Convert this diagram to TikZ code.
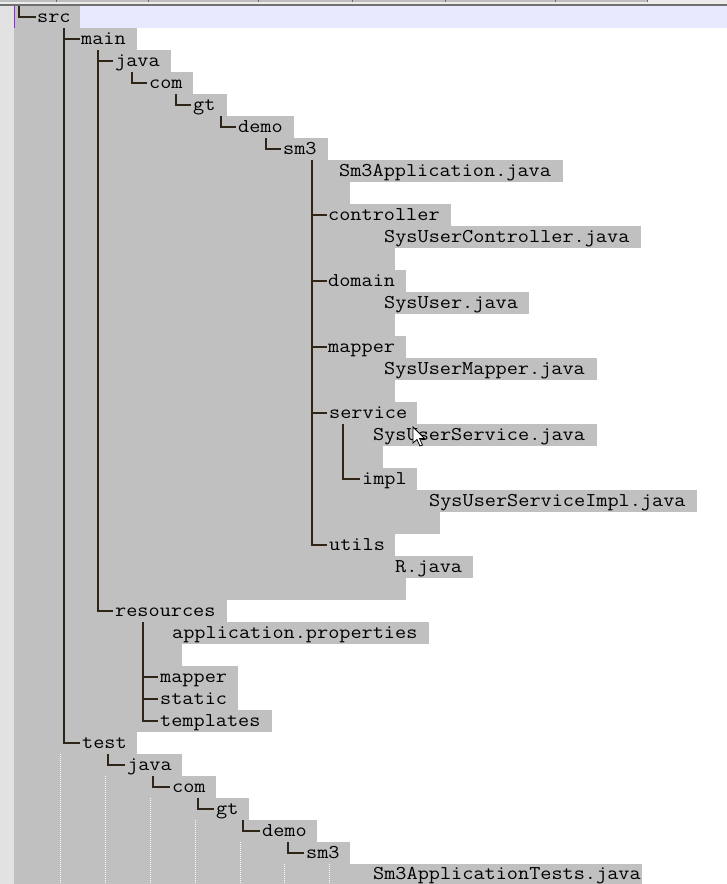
\documentclass[tikz,border=0pt]{standalone}
\usepackage{fontspec}
\definecolor{sel}{HTML}{C0C0C0}
\definecolor{lav}{HTML}{E8E8FF}
\definecolor{gutter}{HTML}{E2E2E2}
\definecolor{topbg}{HTML}{ECECEC}
\definecolor{tabgray}{HTML}{BEBEBE}
\definecolor{tabsep}{HTML}{6A6A6A}
\definecolor{topline}{HTML}{707070}
\definecolor{treeline}{HTML}{2E2418}
\definecolor{caret}{HTML}{8A2BE2}
\newcommand\ct[1]{\scalebox{1.11}[1]{#1}}
\begin{document}
\begin{tikzpicture}[x=1pt,y=-1pt,
  txt/.style={anchor=base west,inner sep=0pt,font=\fontsize{19.5}{22}\selectfont\ttfamily},
  tl/.style={draw=treeline,line width=1.1pt},
  guide/.style={draw=white,line width=1pt,dash pattern=on 1pt off 1pt},
  selrow/.style={fill=sel}]
\useasboundingbox (0,0) rectangle (727,884);
\clip (0,0) rectangle (727,884);
\fill[white] (0,0) rectangle (727,884);
% top strip
\fill[topbg] (0,0) rectangle (727,6);
\fill[tabgray] (0,0) rectangle (647,2.3);
\foreach \x in {56,148,258,352,445,555,647} \draw[tabsep,line width=0.8pt] (\x,0) -- (\x,2.3);
\fill[topline] (0,4.3) rectangle (727,6);
% gutter
\fill[gutter] (0,6) rectangle (14,884);
% current line
\fill[lav] (14,6) rectangle (727,28);
% selection
\foreach \i/\e in {0/80,1/137,2/171,3/193,4/227,5/294,6/328,7/563,8/350,9/451,10/641,11/395,12/406,13/529,14/395,15/406,16/597,17/395,18/417,19/597,20/383,21/417,22/697,23/440,24/395,25/473,26/406,27/227,28/429,29/182,30/238,31/238,32/272,33/137,34/182,35/216,36/249,37/317,38/350,39/642}
  \fill[selrow] (14,{6+22*\i}) rectangle (\e,{28+22*\i});
% caret
\draw[caret,line width=1.2pt] (14.6,6) -- (14.6,28);
% indentation guides (test part)
\foreach \x/\s in {60/34,105/35,150/36,195/37,240/38,284/39,329/39}
  \draw[guide] (\x,{6+22*\s}) -- (\x,884);
% texts
\node[txt] (src) at (37,22) {\ct{src}};
\node[txt] (main) at (81,44) {\ct{main}};
\node[txt] (java) at (115,66) {\ct{java}};
\node[txt] (com) at (149,88) {\ct{com}};
\node[txt] (gt) at (193,110) {\ct{gt}};
\node[txt] (demo) at (238,132) {\ct{demo}};
\node[txt] (sm3) at (283,154) {\ct{sm3}};
\node[txt] (app) at (339,176) {\ct{Sm3Application.java}};
\node[txt] (controller) at (328,220) {\ct{controller}};
\node[txt] (ctrlj) at (384,242) {\ct{SysUserController.java}};
\node[txt] (domain) at (328,286) {\ct{domain}};
\node[txt] (userj) at (384,308) {\ct{SysUser.java}};
\node[txt] (mapper) at (328,352) {\ct{mapper}};
\node[txt] (mapperj) at (384,374) {\ct{SysUserMapper.java}};
\node[txt] (service) at (329,418) {\ct{service}};
\node[txt] (servj) at (373,440) {\ct{SysUserService.java}};
\node[txt] (impl) at (362,484) {\ct{impl}};
\node[txt] (implj) at (429,506) {\ct{SysUserServiceImpl.java}};
\node[txt] (utils) at (329,550) {\ct{utils}};
\node[txt] (rj) at (395,572) {\ct{R.java}};
\node[txt] (resources) at (115,616) {\ct{resources}};
\node[txt] (props) at (172,638) {\ct{application.properties}};
\node[txt] (rmapper) at (160,682) {\ct{mapper}};
\node[txt] (static) at (160,704) {\ct{static}};
\node[txt] (templates) at (160,726) {\ct{templates}};
\node[txt] (test) at (82,748) {\ct{test}};
\node[txt] (tjava) at (127,770) {\ct{java}};
\node[txt] (tcom) at (172,792) {\ct{com}};
\node[txt] (tgt) at (216,814) {\ct{gt}};
\node[txt] (tdemo) at (262,836) {\ct{demo}};
\node[txt] (tsm3) at (306,858) {\ct{sm3}};
\node[txt] (tapp) at (373,879) {\ct{Sm3ApplicationTests.java}};
% tree lines (box-drawing characters)
\draw[tl] (19,6) |- (36,17);
\draw[tl] (64,28) -- (64,743) -- (80,743);
\draw[tl] (64,39) -- (80,39);
\draw[tl] (98,50) -- (98,611) -- (113,611);
\draw[tl] (98,61) -- (113,61);
\draw[tl] (132,72) |- (147,83);
\draw[tl] (176,94) |- (191,105);
\draw[tl] (221,116) |- (236,127);
\draw[tl] (266,138) |- (281,149);
\draw[tl] (312,160) -- (312,545) -- (327,545);
\foreach \r in {9,12,15,18} \draw[tl] (312,{17+22*\r}) -- (327,{17+22*\r});
\draw[tl] (343,424) -- (343,479) -- (360,479);
\draw[tl] (143,622) -- (143,721) -- (158,721);
\foreach \r in {30,31} \draw[tl] (143,{17+22*\r}) -- (158,{17+22*\r});
\draw[tl] (108,754) |- (125,765);
\draw[tl] (153,776) |- (170,787);
\draw[tl] (198,798) |- (214,809);
\draw[tl] (243,820) |- (260,831);
\draw[tl] (288,842) |- (304,853);
% mouse pointer
\draw[fill=white,draw=black,line width=0.8pt,line join=miter]
  (413,427) -- (413,443) -- (417,439.5) -- (420,446) -- (422.5,445) -- (419.5,438.5) -- (424.5,438.5) -- cycle;
\end{tikzpicture}
\end{document}
